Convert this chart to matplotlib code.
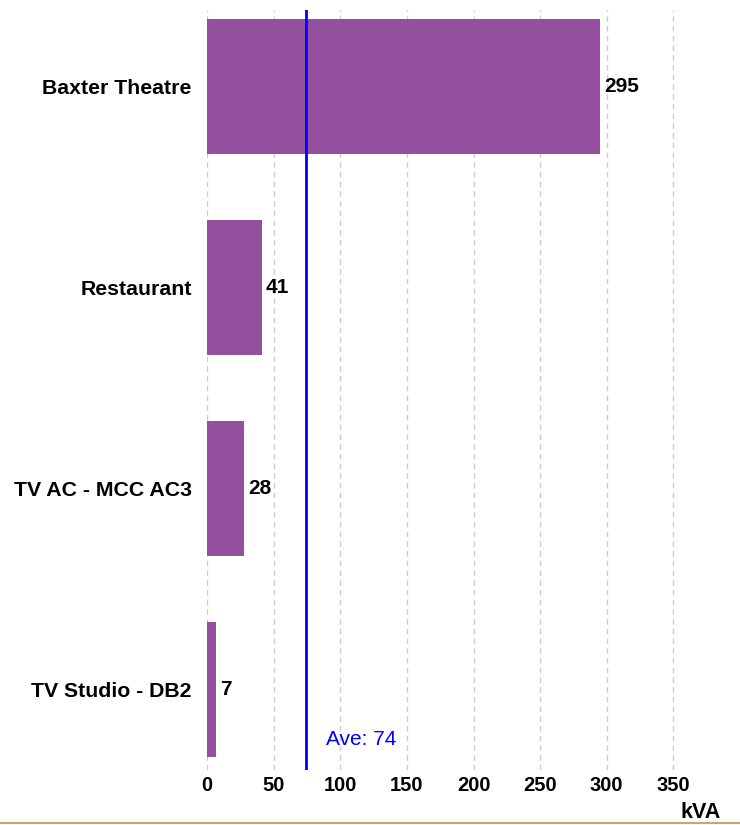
import matplotlib.pyplot as plt
from matplotlib.lines import Line2D

categories = ["Baxter Theatre", "Restaurant", "TV AC - MCC AC3", "TV Studio - DB2"]
values = [295, 41, 28, 7]
average = 74
ticks = [0, 50, 100, 150, 200, 250, 300, 350]

plt.rcParams['font.family'] = ['Liberation Sans', 'DejaVu Sans']

fig = plt.figure(figsize=(7.4, 8.25), dpi=100)
ax = fig.add_axes([207 / 740, 1 - 770 / 825, 533 / 740, 760 / 825])

y = list(range(len(categories)))
ax.barh(y, values, height=0.67, color='#954f9f', zorder=2)
for yi, v in zip(y, values):
    ax.text(v + 3, yi, str(v), va='center', ha='left', fontsize=15, fontweight='bold')

ax.axvline(average, color='#0000ff', linewidth=2, zorder=3)
ax.text(average + 15, 3.25, "Ave: %d" % average, color='#0000ff', fontsize=15,
        va='center', ha='left')

ax.set_xlim(0, 400)
ax.set_ylim(3.4, -0.38)
ax.set_xticks(ticks)
ax.set_xticklabels([str(t) for t in ticks], fontsize=14.5, fontweight='bold')
ax.set_yticks(y)
ax.set_yticklabels(categories, fontsize=15.3, fontweight='bold')
ax.tick_params(length=0)
ax.tick_params(axis='x', pad=4)
ax.tick_params(axis='y', pad=11)
ax.grid(axis='x', color='#cccccc', linestyle=(0, (4, 3)), linewidth=1, zorder=1)
for s in ax.spines.values():
    s.set_visible(False)

fig.text(701 / 740, 1 - 812 / 825, "kVA", ha='center', va='center', fontsize=15.5, fontweight='bold')
fig.add_artist(Line2D([0, 1], [1 - 823 / 825] * 2, color='#d4a26a', linewidth=1.5))

fig.savefig('out.png', dpi=100)
